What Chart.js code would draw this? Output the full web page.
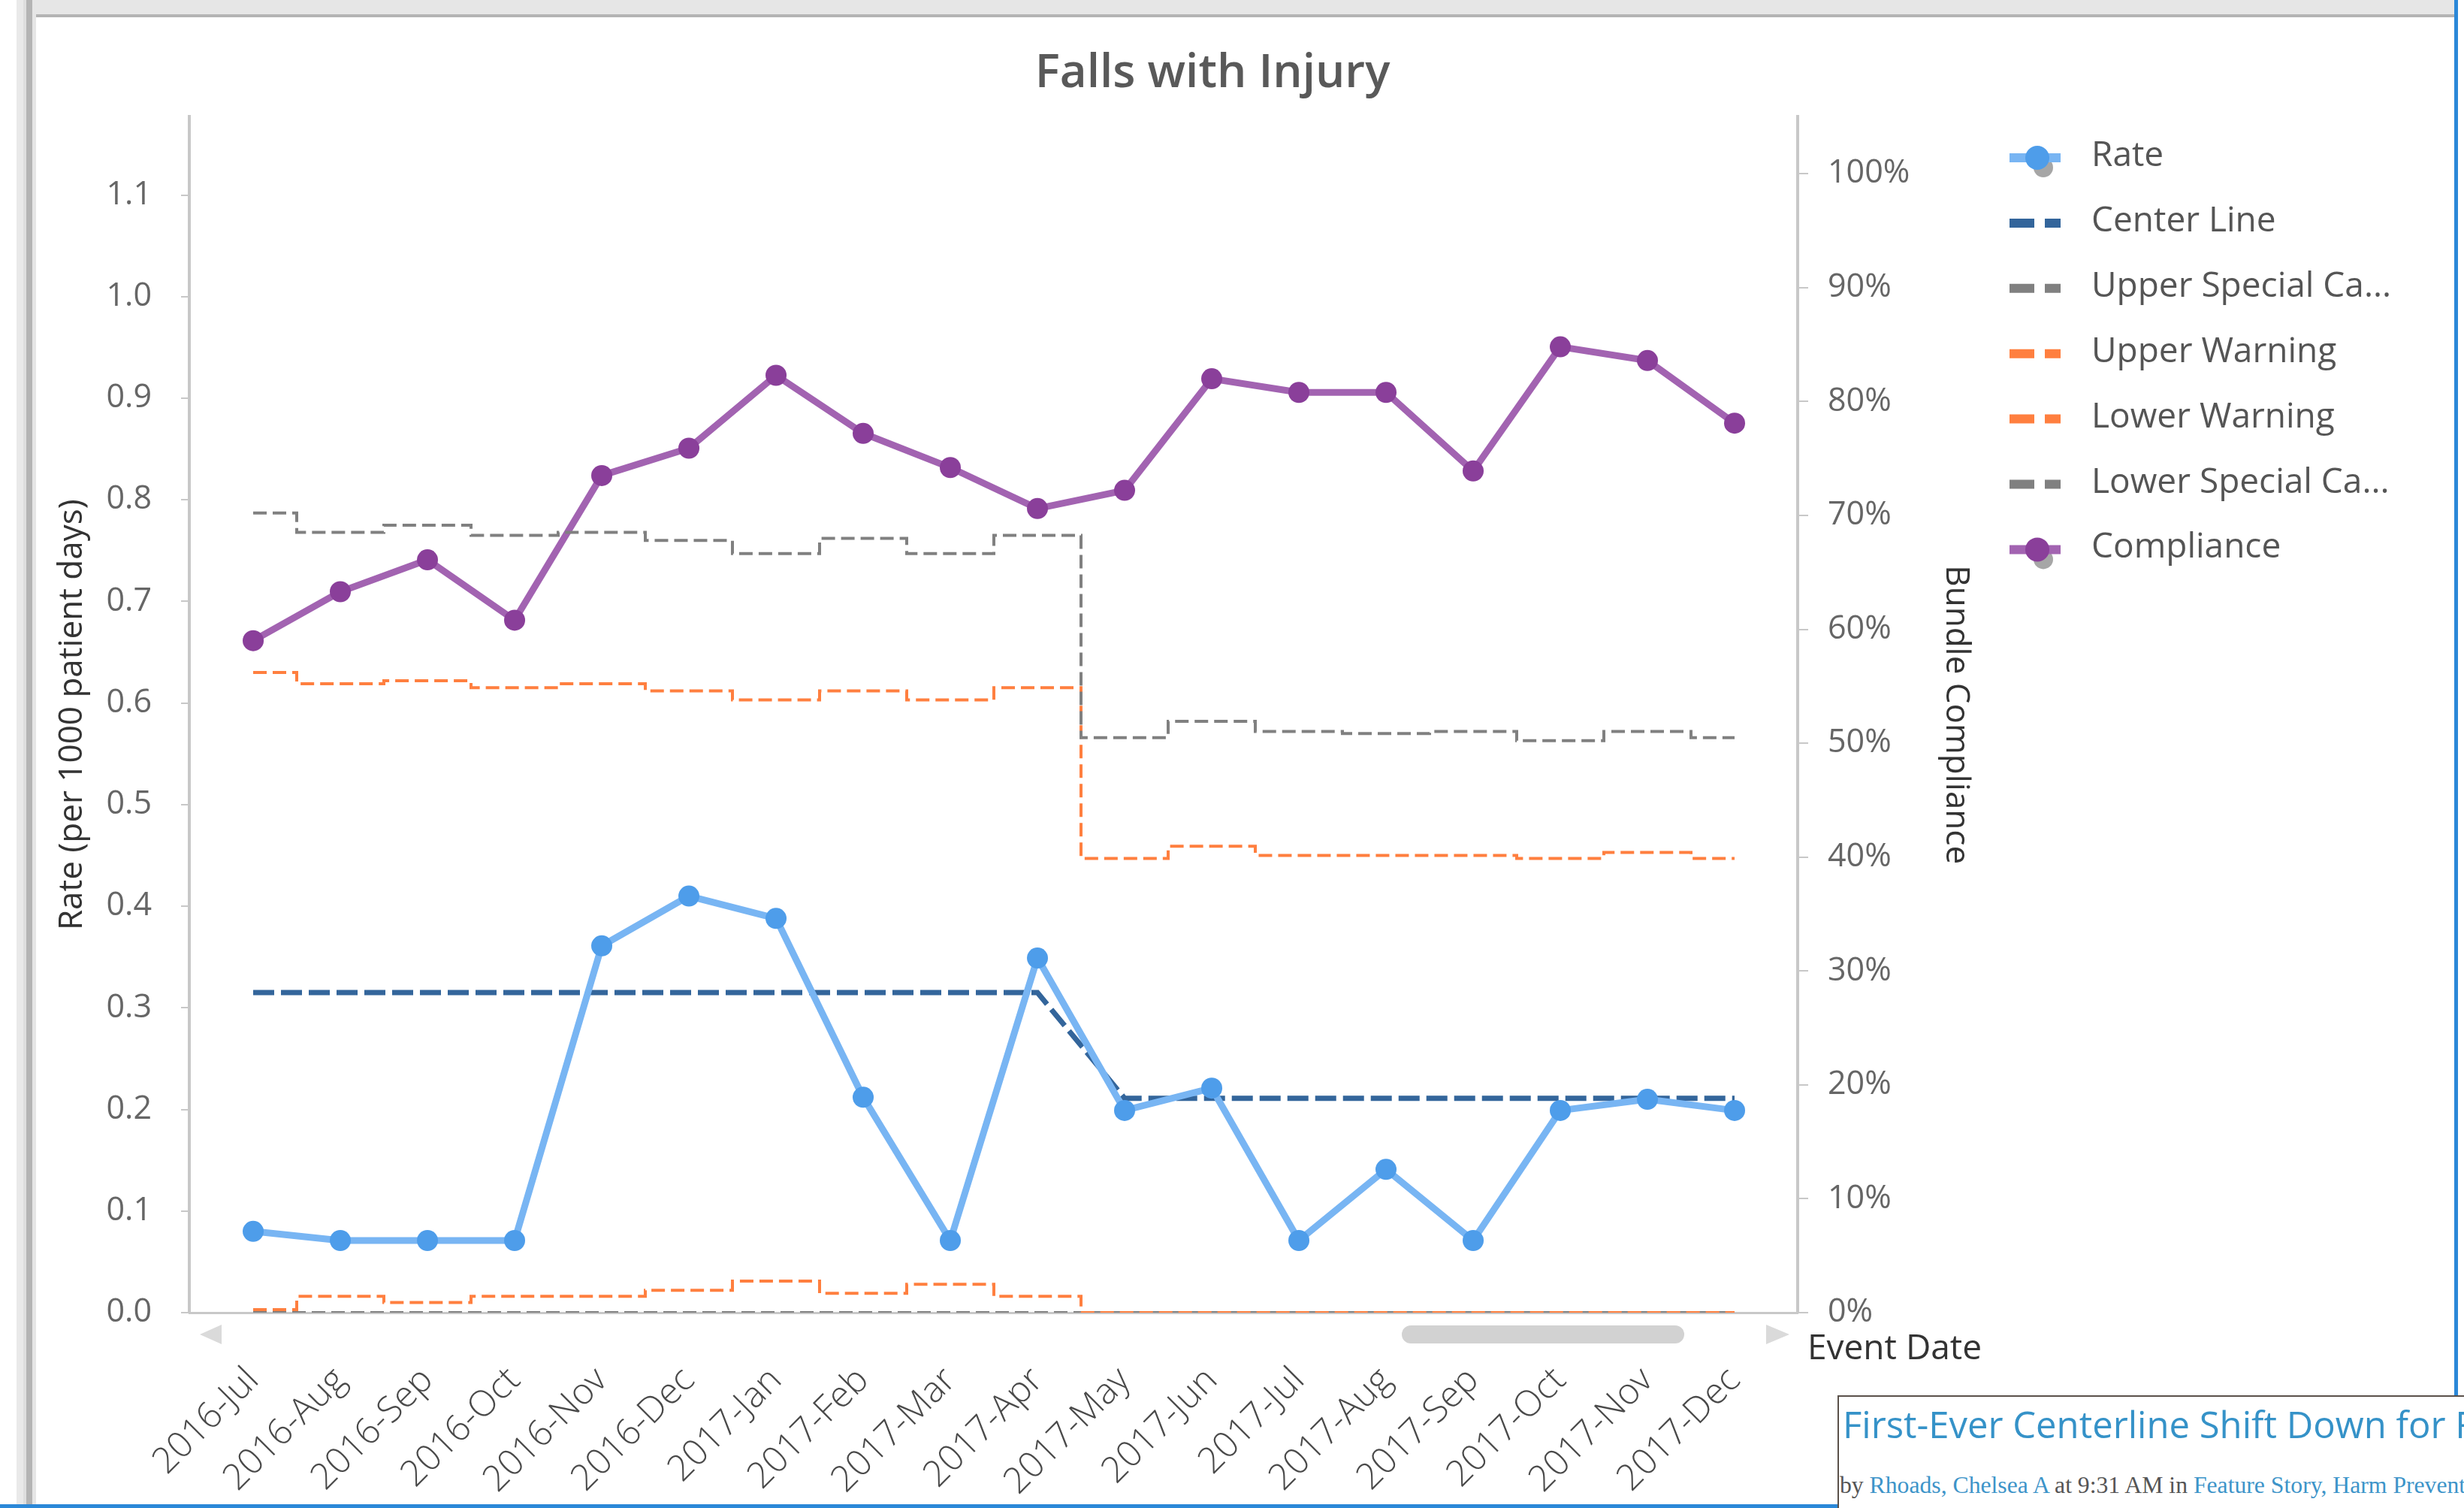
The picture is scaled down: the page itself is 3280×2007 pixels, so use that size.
<!DOCTYPE html>
<html>
<head>
<meta charset="utf-8">
<title>Falls with Injury</title>
<script src="https://cdn.jsdelivr.net/npm/chart.js@4.4.1/dist/chart.umd.min.js"></script>
<style>
  html, body { margin: 0; padding: 0; background: #fff; }
  body { width: 3280px; height: 2007px; position: relative; overflow: hidden; font-family: "Open Sans", sans-serif; }
  .bar { position: absolute; }
  #torqueWrap { position: absolute; left: 0; top: 0; width: 3280px; height: 2007px; }
  #post { position: absolute; left: 2446px; top: 1857px; width: 900px; height: 200px;
          border-top: 2px solid #5a514a; border-left: 2px solid #5a514a; background: #fff; white-space: nowrap; }
  #post .head { position: absolute; left: 5px; top: 12px; margin: 0; font: 400 49px/1 "Open Sans", sans-serif; color: #3592c8; }
  #post .by { position: absolute; left: 1px; top: 102px; margin: 0; font: 31.7px/1 "Liberation Serif", serif; color: #555; }
  #post .by span { color: #3d94c9; }
</style>
</head>
<body>
<div class="bar" style="left:42px;top:0;width:3226px;height:19px;background:#e6e6e6"></div>
<div class="bar" style="left:42px;top:19px;width:3226px;height:4px;background:#b4b4b4"></div>
<div class="bar" style="left:22px;top:0;width:9px;height:2007px;background:#e9e9e9"></div>
<div class="bar" style="left:31px;top:0;width:4px;height:2007px;background:#dedede"></div>
<div class="bar" style="left:35px;top:0;width:8px;height:2007px;background:#b4b4b4"></div>
<div class="bar" style="left:43px;top:0;width:5px;height:2007px;background:#e6e6e6"></div>
<div class="bar" style="left:3267px;top:0;width:5px;height:1857px;background:#2b88d8"></div>
<div class="bar" style="left:0;top:2002px;width:2446px;height:5px;background:#2b88d8"></div>

<div id="torqueWrap"><canvas id="fallsChart" width="3280" height="2007"></canvas></div>

<div id="post">
  <p class="head">First-Ever Centerline Shift Down for Falls</p>
  <p class="by">by <span>Rhoads, Chelsea A</span> at 9:31 AM in <span>Feature Story, Harm Prevention</span></p>
</div>

<script>
// months on the x axis
const months = ['2016-Jul', '2016-Aug', '2016-Sep', '2016-Oct', '2016-Nov', '2016-Dec',
                '2017-Jan', '2017-Feb', '2017-Mar', '2017-Apr', '2017-May', '2017-Jun',
                '2017-Jul', '2017-Aug', '2017-Sep', '2017-Oct', '2017-Nov', '2017-Dec'];

// left axis: rate per 1000 patient days
const rate = [0.080, 0.071, 0.071, 0.071, 0.361, 0.410, 0.388, 0.212, 0.071,
              0.349, 0.199, 0.221, 0.071, 0.141, 0.071, 0.199, 0.210, 0.199];
const centerLine = [0.315, 0.315, 0.315, 0.315, 0.315, 0.315, 0.315, 0.315, 0.315,
                    0.315, 0.211, 0.211, 0.211, 0.211, 0.211, 0.211, 0.211, 0.211];
const upperSpecialCause = [0.787, 0.768, 0.775, 0.765, 0.768, 0.760, 0.747, 0.762, 0.747,
                           0.765, 0.566, 0.582, 0.572, 0.570, 0.572, 0.563, 0.572, 0.566];
const upperWarning = [0.630, 0.619, 0.622, 0.615, 0.619, 0.612, 0.603, 0.612, 0.603,
                      0.615, 0.447, 0.459, 0.450, 0.450, 0.450, 0.447, 0.453, 0.447];
const lowerWarning = [0.003, 0.016, 0.010, 0.016, 0.016, 0.022, 0.031, 0.019, 0.028,
                      0.016, 0, 0, 0, 0, 0, 0, 0, 0];
const lowerSpecialCause = [0, 0, 0, 0, 0, 0, 0, 0, 0, 0, 0, 0, 0, 0, 0, 0, 0, 0];

// right axis: bundle compliance in percent
const compliance = [59.0, 63.3, 66.1, 60.8, 73.5, 75.9, 82.3, 77.2, 74.2,
                    70.6, 72.2, 82.0, 80.8, 80.8, 73.9, 84.8, 83.6, 78.1];

// what the legend shows (long names get cut like in the original)
const legendText = ['Rate', 'Center Line', 'Upper Special Ca...', 'Upper Warning',
                    'Lower Warning', 'Lower Special Ca...', 'Compliance'];

function xy(values) {
    return values.map((v, i) => ({x: i, y: v}));
}

Chart.defaults.font.family = '"Open Sans", sans-serif';

// legend on the right, drawn by hand so it sits where the original has it
const sideLegend = {
    id: 'sideLegend',
    afterDraw(chart) {
        const ctx = chart.ctx;
        ctx.save();
        chart.data.datasets.forEach((ds, i) => {
            const y = 210 + i * 86.9;
            if (ds.pointRadius > 0) {
                ctx.fillStyle = 'rgba(150,150,150,0.85)';
                ctx.beginPath(); ctx.arc(2720, y + 13, 13, 0, 2 * Math.PI); ctx.fill();
                ctx.strokeStyle = ds.borderColor;
                ctx.lineWidth = 12;
                ctx.setLineDash([]);
                ctx.beginPath(); ctx.moveTo(2675, y); ctx.lineTo(2743, y); ctx.stroke();
                ctx.fillStyle = ds.pointBackgroundColor;
                ctx.beginPath(); ctx.arc(2712, y, 16, 0, 2 * Math.PI); ctx.fill();
            } else {
                ctx.strokeStyle = ds.borderColor;
                ctx.lineWidth = 12;
                ctx.setLineDash([33, 14]);
                ctx.beginPath(); ctx.moveTo(2675, y); ctx.lineTo(2743, y); ctx.stroke();
            }
            ctx.setLineDash([]);
            ctx.fillStyle = '#555';
            ctx.font = '46px "Open Sans"';
            ctx.textBaseline = 'alphabetic';
            ctx.textAlign = 'left';
            ctx.fillText(legendText[i], 2784, y + 11);
        });
        ctx.restore();
    }
};

// scroll bar under the x axis and the "Event Date" caption
const scrollBits = {
    id: 'scrollBits',
    afterDraw(chart) {
        const {ctx, chartArea: a} = chart;
        const sy = a.bottom + 29;
        ctx.save();
        ctx.fillStyle = '#d2d2d2';
        ctx.beginPath();
        ctx.roundRect(a.right - 527, sy - 12, 376, 24, 12);
        ctx.fill();
        ctx.fillStyle = '#dadada';
        ctx.beginPath();
        ctx.moveTo(a.left + 14, sy); ctx.lineTo(a.left + 43, sy - 13); ctx.lineTo(a.left + 43, sy + 13);
        ctx.closePath(); ctx.fill();
        ctx.beginPath();
        ctx.moveTo(a.right - 11, sy); ctx.lineTo(a.right - 42, sy - 13); ctx.lineTo(a.right - 42, sy + 13);
        ctx.closePath(); ctx.fill();
        ctx.fillStyle = '#333';
        ctx.font = '46px "Open Sans"';
        ctx.textAlign = 'left';
        ctx.textBaseline = 'alphabetic';
        ctx.fillText('Event Date', a.right + 13, a.bottom + 62);
        ctx.restore();
    }
};

const ctx = document.getElementById('fallsChart').getContext('2d');
const fallsChart = new Chart(ctx, {
    type: 'line',
    data: {
        datasets: [{
            label: 'Rate',
            data: xy(rate),
            yAxisID: 'y',
            borderColor: '#78b5f3',
            borderWidth: 9,
            pointRadius: 14,
            pointBackgroundColor: '#4e9dea',
            pointBorderWidth: 0,
            tension: 0
        }, {
            label: 'Center Line',
            data: xy(centerLine),
            yAxisID: 'y',
            borderColor: '#33659b',
            borderWidth: 7,
            borderDash: [28, 9],
            pointRadius: 0
        }, {
            label: 'Upper Special Cause',
            data: xy(upperSpecialCause),
            yAxisID: 'y',
            borderColor: '#808080',
            borderWidth: 4,
            borderDash: [18, 8],
            stepped: 'middle',
            pointRadius: 0
        }, {
            label: 'Upper Warning',
            data: xy(upperWarning),
            yAxisID: 'y',
            borderColor: '#ff7f3f',
            borderWidth: 4,
            borderDash: [18, 8],
            stepped: 'middle',
            pointRadius: 0
        }, {
            label: 'Lower Warning',
            data: xy(lowerWarning),
            yAxisID: 'y',
            borderColor: '#ff7f3f',
            borderWidth: 4,
            borderDash: [18, 8],
            stepped: 'middle',
            pointRadius: 0
        }, {
            label: 'Lower Special Cause',
            data: xy(lowerSpecialCause),
            yAxisID: 'y',
            borderColor: '#808080',
            borderWidth: 4,
            borderDash: [18, 8],
            stepped: 'middle',
            pointRadius: 0
        }, {
            label: 'Compliance',
            data: xy(compliance),
            yAxisID: 'y1',
            borderColor: '#a263b1',
            borderWidth: 9,
            pointRadius: 14,
            pointBackgroundColor: '#8a3f9a',
            pointBorderWidth: 0,
            tension: 0
        }]
    },
    options: {
        responsive: false,
        animation: false,
        devicePixelRatio: 1,
        layout: { padding: { left: 0, right: 52, top: 0, bottom: 0 } },
        plugins: {
            legend: { display: false },
            tooltip: { enabled: false },
            title: {
                display: true,
                text: 'Falls with Injury',
                color: '#595959',
                font: { size: 62, weight: '600' },
                padding: { top: 61, bottom: 20 }
            }
        },
        scales: {
            x: {
                type: 'linear',
                min: -0.733,
                max: 17.724,
                afterFit(scale) { scale.height = 260; },
                border: { color: '#c8c8c8', width: 3 },
                grid: { display: false, drawTicks: false },
                ticks: {
                    stepSize: 1,
                    includeBounds: false,
                    autoSkip: false,
                    maxRotation: 45,
                    minRotation: 45,
                    padding: 62,
                    color: '#4a4a4a',
                    font: { size: 48, weight: '300' },
                    callback: v => months[v] || ''
                }
            },
            y: {
                position: 'left',
                min: 0,
                max: 1.177,
                afterFit(scale) { scale.width = 252; },
                border: { color: '#c8c8c8', width: 4 },
                grid: { drawOnChartArea: false, color: '#c8c8c8', lineWidth: 2, tickLength: 11 },
                ticks: {
                    stepSize: 0.1,
                    includeBounds: false,
                    padding: 39,
                    color: '#666',
                    font: { size: 43 },
                    callback: v => v.toFixed(1)
                },
                title: {
                    display: true,
                    text: 'Rate (per 1000 patient days)',
                    color: '#333',
                    font: { size: 44 },
                    padding: { top: 70, bottom: 0 }
                }
            },
            y1: {
                position: 'right',
                min: 0,
                max: 105,
                afterFit(scale) { scale.width = 835; },
                border: { color: '#c8c8c8', width: 4 },
                grid: { drawOnChartArea: false, color: '#c8c8c8', lineWidth: 2, tickLength: 14 },
                ticks: {
                    stepSize: 10,
                    includeBounds: false,
                    padding: 26,
                    color: '#666',
                    font: { size: 43 },
                    callback: v => v + '%'
                },
                title: {
                    display: true,
                    text: 'Bundle Compliance',
                    color: '#333',
                    font: { size: 44 },
                    padding: { top: 598, bottom: 0 }
                }
            }
        }
    },
    plugins: [sideLegend, scrollBits]
});
</script>
</body>
</html>
